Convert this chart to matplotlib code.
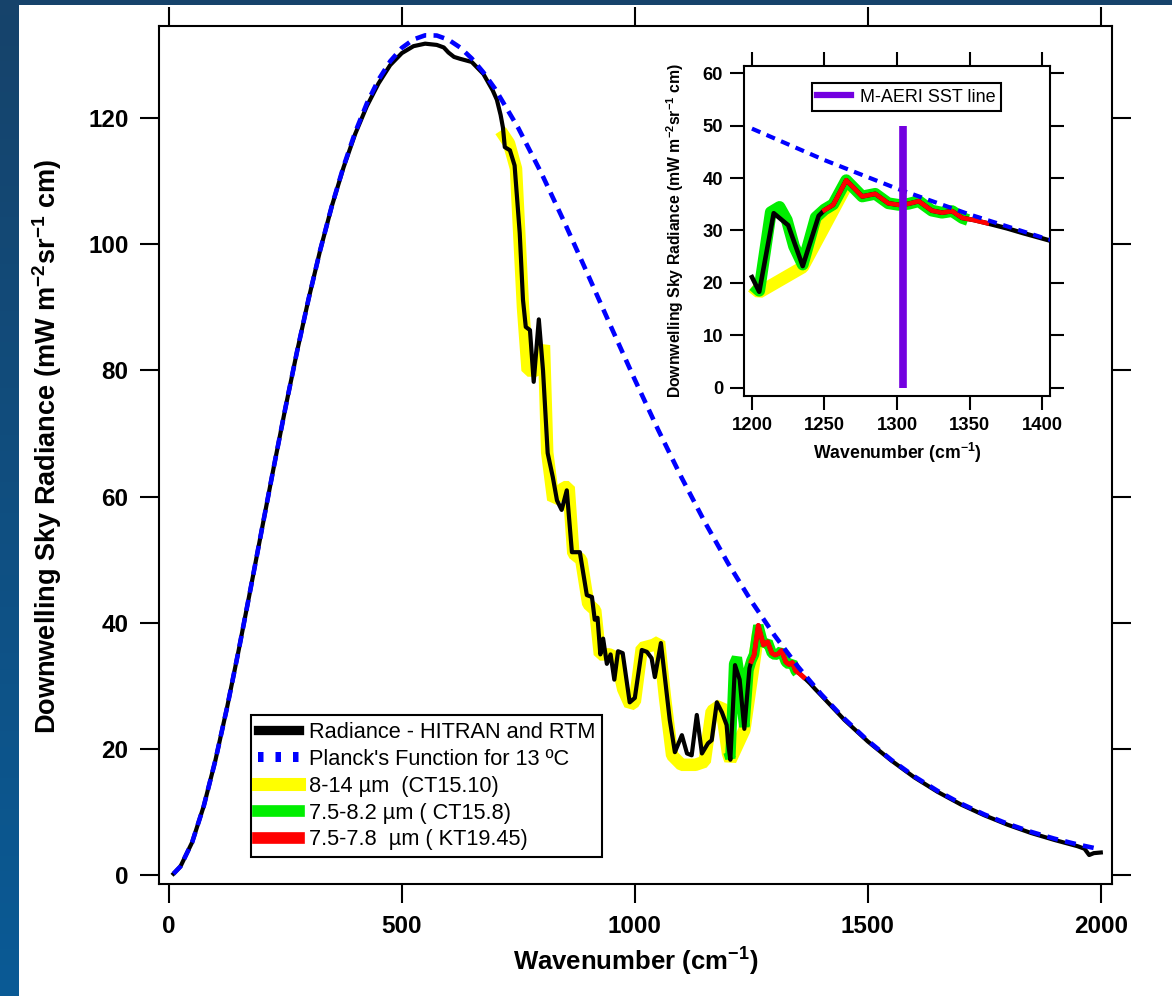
import matplotlib
matplotlib.use("Agg")
import matplotlib.pyplot as plt
from matplotlib.lines import Line2D
from matplotlib.patches import Rectangle
from matplotlib.colors import LinearSegmentedColormap
import numpy as np

plt.rcParams['font.family'] = ['Liberation Sans', 'DejaVu Sans']
plt.rcParams['mathtext.default'] = 'regular'

# Planck's function for 13 C (mW m-2 sr-1 cm)
planck_wn = [10, 25, 50, 75, 100, 125, 150, 175, 200, 225, 250, 275, 300, 325, 350,
             375, 400, 425, 450, 475, 500, 525, 550, 575, 600, 625, 650, 675, 700,
             750, 800, 850, 900, 950, 1000, 1050, 1100, 1150, 1200, 1250, 1300, 1350,
             1400, 1450, 1500, 1550, 1600, 1650, 1700, 1750, 1800, 1850, 1900, 1950, 2000]
planck_rad = [0.23, 1.39, 5.21, 10.97, 18.23, 26.59, 35.70, 45.25, 54.96, 64.61, 74.00,
              82.96, 91.37, 99.12, 106.14, 112.35, 117.77, 122.34, 126.09, 129.00, 131.13,
              132.47, 133.12, 133.09, 132.43, 131.20, 129.46, 127.25, 124.66, 118.42,
              111.20, 103.31, 95.08, 86.75, 78.54, 70.61, 63.07, 56.00, 49.45, 43.44,
              37.99, 33.07, 28.68, 24.78, 21.33, 18.30, 15.65, 13.35, 11.35, 9.63, 8.15,
              6.88, 5.80, 4.88, 4.09]

# Radiance - HITRAN and RTM (black)
rad_wn = [10, 25, 50, 75, 100, 125, 150, 175, 200, 225, 250, 275, 300, 325, 350, 375,
          400, 425, 450, 475, 500, 525, 550, 575, 590, 600, 612, 625, 650, 675, 695,
          704, 712, 717, 721, 732, 742, 753, 760, 766, 775, 783, 794, 803, 813, 824,
          833, 843, 854, 865, 882, 897, 908, 914, 920, 926, 932, 940, 948, 956, 964,
          974, 989, 1000, 1015, 1026, 1036, 1043, 1056, 1075, 1086, 1101, 1112, 1122,
          1133, 1144, 1157, 1165, 1176, 1187, 1197, 1200, 1205, 1215, 1225, 1235, 1246,
          1250, 1256, 1265, 1276, 1285, 1294, 1301, 1308, 1315, 1324, 1331, 1338, 1345,
          1353, 1362, 1376, 1387, 1400, 1450, 1500, 1550, 1600, 1650, 1700, 1750, 1800,
          1850, 1900, 1950, 1965, 1975, 1985, 2000]
rad_val = [0.23, 1.39, 5.21, 10.97, 18.23, 26.59, 35.70, 45.25, 54.96, 64.61, 74.00,
           82.96, 91.37, 99.12, 106.1, 112.2, 117.5, 121.9, 125.5, 128.4, 130.3, 131.4,
           131.8, 131.6, 131.2, 130.4, 129.7, 129.4, 128.9, 127.0, 124.4, 122.9, 120.5,
           118.5, 115.4, 114.9, 112.5, 101.8, 91.2, 86.9, 86.4, 78.2, 88.1, 80.0, 66.9,
           63.1, 59.4, 57.9, 61.0, 51.2, 51.2, 44.4, 44.1, 40.5, 40.8, 35.0, 37.5, 33.5,
           35.0, 31.0, 35.5, 35.2, 27.4, 28.1, 35.7, 35.4, 34.4, 31.4, 36.8, 24.6, 19.5,
           22.2, 19.3, 19.0, 25.4, 19.3, 20.9, 21.4, 27.4, 25.8, 23.8, 21.1, 18.3, 33.3,
           31.0, 23.2, 32.8, 33.9, 34.9, 39.6, 36.5, 37.0, 35.2, 34.9, 35.1, 35.6, 33.8,
           33.4, 33.7, 32.4, 32.0, 31.4, 30.4, 29.5, 28.5, 24.6, 21.2, 18.2, 15.5, 13.2,
           11.2, 9.5, 8.0, 6.7, 5.6, 4.6, 4.2, 3.2, 3.5, 3.6]

# 8-14 um (CT15.10) band (yellow)
ct1510_wn = [712, 730, 745, 760, 770, 790, 805, 812, 825, 835, 848, 858, 868, 885,
             900, 915, 925, 945, 960, 975, 990, 1000, 1015, 1040, 1052, 1065, 1080,
             1100, 1130, 1150, 1165, 1185, 1200, 1205, 1235, 1265]
ct1510_val = [118.0, 116.0, 112.0, 90.0, 80.0, 80.0, 84.0, 67.0, 59.5, 60.0, 61.5,
              61.5, 51.0, 50.0, 43.0, 42.0, 35.0, 35.0, 34.5, 29.5, 27.0, 27.5, 36.0,
              36.5, 37.0, 28.0, 19.0, 17.5, 17.5, 18.0, 26.0, 27.0, 19.3, 18.2, 23.0, 38.5]

# 7.5-8.2 um (CT15.8) band (green)
ct158_wn = [1201, 1205, 1213, 1219, 1224, 1229, 1235, 1244, 1250, 1256, 1265, 1276,
            1285, 1294, 1301, 1308, 1315, 1324, 1331, 1338, 1345, 1349]
ct158_val = [19.5, 18.5, 33.5, 34.5, 32.0, 27.0, 23.5, 32.5, 34.0, 35.0, 39.6, 36.5,
             37.0, 35.2, 34.9, 35.1, 35.6, 33.8, 33.4, 33.7, 32.4, 32.0]

# 7.5-7.8 um (KT19.45) band (red)
kt1945_wn = [1250, 1256, 1265, 1276, 1285, 1294, 1301, 1308, 1315, 1324, 1331, 1338,
             1345, 1353, 1362]
kt1945_val = [33.9, 34.9, 39.6, 36.5, 37.0, 35.2, 34.9, 35.1, 35.6, 33.8, 33.4, 33.7,
              32.4, 32.0, 31.4]

# M-AERI SST line
sst_wn = 1304
sst_span = [0, 50]

legend_labels = ["Radiance - HITRAN and RTM", "Planck's Function for 13 \u00baC",
                 "8-14 \u00b5m  (CT15.10)", "7.5-8.2 \u00b5m ( CT15.8)",
                 "7.5-7.8  \u00b5m ( KT19.45)"]

ylab = "Downwelling Sky Radiance (mW m$^{-2}$sr$^{-1}$ cm)"
xlab = "Wavenumber (cm$^{-1}$)"

c_yellow = '#ffff00'
c_green = '#00ee00'
c_red = '#ff0000'
c_blue = '#0000ff'
c_purple = '#7300e0'

fig = plt.figure(figsize=(11.72, 9.96), dpi=100)

# blue slide background with white panel
bg = fig.add_axes([0, 0, 1, 1], zorder=-10)
cmap = LinearSegmentedColormap.from_list('bgblue', ['#0a5a95', '#16436b'])
bg.imshow(np.linspace(0, 1, 64).reshape(-1, 1), aspect='auto', cmap=cmap,
          extent=(0, 1, 0, 1), origin='lower')
bg.add_patch(Rectangle((19 / 1172, 0), 1, 1 - 5 / 996, facecolor='white',
                       edgecolor='none', transform=bg.transAxes))
bg.set_xlim(0, 1)
bg.set_ylim(0, 1)
bg.axis('off')

# ---- main axes ----
ax = fig.add_axes([0.1357, 0.1124, 0.8131, 0.8615])
ax.plot(ct1510_wn, ct1510_val, color=c_yellow, lw=9, solid_capstyle='butt',
        solid_joinstyle='bevel', zorder=2)
ax.plot(ct158_wn, ct158_val, color=c_green, lw=7.5, solid_capstyle='butt',
        solid_joinstyle='bevel', zorder=3)
ax.plot(rad_wn, rad_val, color='black', lw=3, zorder=4)
ax.plot(kt1945_wn, kt1945_val, color=c_red, lw=3.5, zorder=5)
ax.plot(planck_wn, planck_rad, color=c_blue, lw=3.3, linestyle=(0, (2.4, 1.6)), zorder=6)

ax.set_xlim(-21, 2024)
ax.set_ylim(-1.4, 134.6)
ax.set_xticks([0, 500, 1000, 1500, 2000])
ax.set_yticks([0, 20, 40, 60, 80, 100, 120])
ax.tick_params(direction='out', length=14, width=1.5, top=True, right=True,
               labelsize=17.5, pad=8)
for lab in ax.get_xticklabels() + ax.get_yticklabels():
    lab.set_fontweight('bold')
for sp in ax.spines.values():
    sp.set_linewidth(1.5)
ax.set_ylabel(ylab, fontsize=19.5, fontweight='bold')
ax.set_xlabel(xlab, fontsize=18.5, fontweight='bold')
ax.yaxis.set_label_coords(-0.100, 0.51)
ax.xaxis.set_label_coords(0.5, -0.072)

handles = [
    Line2D([], [], color='black', lw=6.7),
    Line2D([], [], color=c_blue, lw=7.2, linestyle=(0, (0.55, 1.2))),
    Line2D([], [], color=c_yellow, lw=9.4),
    Line2D([], [], color=c_green, lw=8.4),
    Line2D([], [], color=c_red, lw=8.4),
]
leg = ax.legend(handles, legend_labels, loc='lower left', bbox_to_anchor=(0.0965, 0.0315),
                fontsize=15.7, frameon=True, fancybox=False, framealpha=1,
                edgecolor='black', handlelength=1.92, handletextpad=0.46,
                labelspacing=0.27, borderpad=0.3, borderaxespad=0)
leg.get_frame().set_linewidth(1.5)

# ---- inset ----
axin = fig.add_axes([0.6348, 0.6024, 0.2611, 0.3313])
axin.set_facecolor('white')


def sub(wn, val, lo=1200):
    pts = [(w, v) for w, v in zip(wn, val) if w >= lo]
    return [p[0] for p in pts], [p[1] for p in pts]


yw, yv = sub(ct1510_wn, ct1510_val)
axin.plot(yw, yv, color=c_yellow, lw=9, solid_capstyle='butt',
          solid_joinstyle='bevel', zorder=2)
axin.plot(ct158_wn, ct158_val, color=c_green, lw=8.5, solid_capstyle='butt',
          solid_joinstyle='round', zorder=3)
bw, bv = sub(rad_wn, rad_val)
axin.plot(bw, bv, color='black', lw=3.3, zorder=4)
axin.plot(kt1945_wn, kt1945_val, color=c_red, lw=3.3, zorder=5)
pw, pv = sub(planck_wn, planck_rad)
axin.plot(pw, pv, color=c_blue, lw=3, linestyle=(0, (2.2, 1.6)), zorder=6)
axin.plot([sst_wn, sst_wn], sst_span, color=c_purple, lw=5.5,
          solid_capstyle='butt', zorder=7)

axin.set_xlim(1194.5, 1405.5)
axin.set_ylim(-1.6, 61.4)
axin.set_xticks([1200, 1250, 1300, 1350, 1400])
axin.set_yticks([0, 10, 20, 30, 40, 50, 60])
axin.tick_params(direction='out', length=10, width=1.5, top=True, right=True,
                 labelsize=13.3, pad=5)
for lab in axin.get_xticklabels() + axin.get_yticklabels():
    lab.set_fontweight('bold')
for sp in axin.spines.values():
    sp.set_linewidth(1.5)
axin.set_ylabel(ylab, fontsize=11.3, fontweight='bold')
axin.set_xlabel(xlab, fontsize=12.7, fontweight='bold')
axin.yaxis.set_label_coords(-0.19, 0.5)
axin.xaxis.set_label_coords(0.5, -0.135)

leg2 = axin.legend([Line2D([], [], color=c_purple, lw=4.5)], ["M-AERI SST line"],
                   loc='upper left', bbox_to_anchor=(0.222, 0.948), fontsize=13,
                   frameon=True, fancybox=False, framealpha=1, edgecolor='black',
                   handlelength=1.88, handletextpad=0.5, borderpad=0.3, borderaxespad=0)
leg2.get_frame().set_linewidth(1.5)

fig.savefig('out.png', dpi=100)
